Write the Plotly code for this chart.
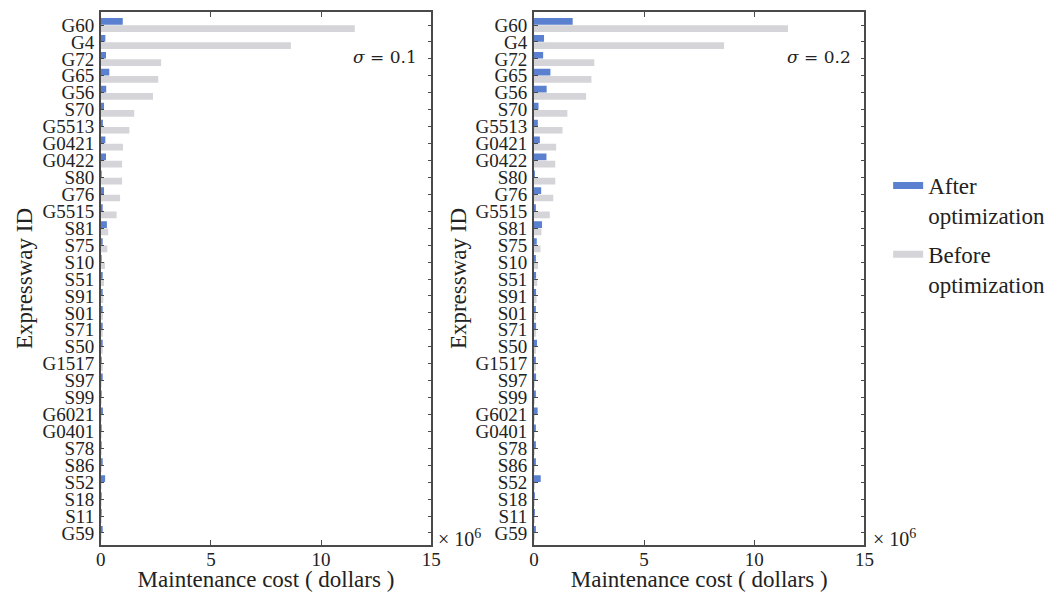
import plotly.graph_objects as go

# Expressway IDs, ordered by pre-optimization maintenance cost
expressways = ["G60", "G4", "G72", "G65", "G56", "S70", "G5513", "G0421", "G0422",
               "S80", "G76", "G5515", "S81", "S75", "S10", "S51", "S91", "S01", "S71",
               "S50", "G1517", "S97", "S99", "G6021", "G0401", "S78", "S86", "S52",
               "S18", "S11", "G59"]

# Maintenance cost in millions of dollars
cost_before = [11.53, 8.63, 2.74, 2.61, 2.37, 1.52, 1.30, 1.01, 0.97, 0.97, 0.88,
               0.72, 0.34, 0.30, 0.19, 0.15, 0.12, 0.10, 0.08, 0.06, 0.05, 0.04,
               0.03, 0.03, 0.02, 0.02, 0.02, 0.02, 0.01, 0.01, 0.01]
cost_after_s01 = [1.00, 0.21, 0.24, 0.39, 0.25, 0.15, 0.10, 0.21, 0.24, 0.03, 0.15,
                  0.05, 0.28, 0.08, 0.03, 0.08, 0.07, 0.05, 0.05, 0.07, 0.04, 0.09,
                  0.02, 0.10, 0.02, 0.02, 0.05, 0.20, 0.01, 0.01, 0.05]
cost_after_s02 = [1.76, 0.46, 0.42, 0.75, 0.58, 0.21, 0.18, 0.27, 0.57, 0.04, 0.33,
                  0.05, 0.37, 0.13, 0.08, 0.10, 0.10, 0.08, 0.10, 0.14, 0.08, 0.10,
                  0.05, 0.17, 0.08, 0.05, 0.08, 0.31, 0.02, 0.02, 0.08]

sigma_labels = ["<i>σ</i> = 0.1", "<i>σ</i> = 0.2"]
x_ticks = [0, 5, 10, 15]

BLUE = "#5b80cf"
GRAY = "#d4d4d9"
AXIS = "#4a4a4a"
SERIF = "Liberation Serif, Times New Roman, serif"

W, H = 1056, 592
# panel frames in pixels: (left, right), shared top / bottom
panels = [(97, 432), (536, 871)]
top_px, bottom_px = 12, 545

fig = go.Figure()
layout = dict(
    width=W, height=H,
    margin=dict(l=0, r=0, t=0, b=0),
    paper_bgcolor="white", plot_bgcolor="white",
    barmode="group", bargap=0.14, bargroupgap=0.08,
    showlegend=True,
    font=dict(family=SERIF, size=19, color="#222"),
)

after_sets = [cost_after_s01, cost_after_s02]
annotations = []
for i, (after, (lpx, rpx)) in enumerate(zip(after_sets, panels)):
    xa = "x" if i == 0 else f"x{i + 1}"
    ya = "y" if i == 0 else f"y{i + 1}"
    fig.add_trace(go.Bar(y=expressways, x=after, orientation="h", marker_color=BLUE,
                         marker_line_width=0, xaxis=xa, yaxis=ya, showlegend=False,
                         name="After optimization"))
    fig.add_trace(go.Bar(y=expressways, x=cost_before, orientation="h", marker_color=GRAY,
                         marker_line_width=0, xaxis=xa, yaxis=ya, showlegend=False,
                         name="Before optimization"))
    key = "" if i == 0 else str(i + 1)
    layout["xaxis" + key] = dict(
        domain=[lpx / W, rpx / W], anchor=ya, range=[0, 15],
        tickmode="array", tickvals=x_ticks, ticktext=[str(v) for v in x_ticks],
        ticks="inside", ticklen=5, tickcolor=AXIS, showline=True, linecolor=AXIS,
        linewidth=1.5, mirror="ticks", showgrid=False, zeroline=False,
        tickfont=dict(size=19, family=SERIF), ticklabelstandoff=-4,
        title=dict(text="Maintenance cost ( dollars )", font=dict(size=23, family=SERIF),
                   standoff=4),
    )
    layout["yaxis" + key] = dict(
        domain=[(H - bottom_px) / H, (H - top_px) / H], anchor=xa,
        type="category", range=[30.71, -0.77],
        tickmode="array", tickvals=expressways, ticktext=expressways,
        ticks="inside", ticklen=4, tickcolor=AXIS, showline=True, linecolor=AXIS,
        linewidth=1.5, mirror="ticks", showgrid=False, zeroline=False,
        tickfont=dict(size=19, family=SERIF), ticklabelstandoff=1,
        title=dict(text="Expressway ID", font=dict(size=23, family=SERIF), standoff=3),
    )
    annotations.append(dict(
        x=(rpx - 12) / W, y=(H - 57) / H, xref="paper", yref="paper",
        xanchor="right", yanchor="middle", showarrow=False,
        text=sigma_labels[i], font=dict(size=17, family="DejaVu Serif", color="#222")))
    annotations.append(dict(
        x=(rpx + 5 + 2 * i) / W, y=(H - 538) / H, xref="paper", yref="paper",
        xanchor="left", yanchor="middle", showarrow=False,
        text="× 10<sup>6</sup>", font=dict(size=20, family=SERIF, color="#222")))

# legend entries
fig.add_trace(go.Scatter(x=[None], y=[None], mode="lines", line=dict(color=BLUE, width=7),
                         name="After<br>optimization", legendgroup="after",
                         xaxis="x2", yaxis="y2"))
fig.add_trace(go.Scatter(x=[None], y=[None], mode="lines", line=dict(color=GRAY, width=7),
                         name="Before<br>optimization", legendgroup="before",
                         xaxis="x2", yaxis="y2"))

layout["legend"] = dict(
    x=895 / W, y=(H - 164) / H, xanchor="left", yanchor="top",
    traceorder="grouped", valign="top", itemwidth=30, tracegroupgap=6,
    font=dict(size=23, family=SERIF, color="#222"), bgcolor="rgba(0,0,0,0)",
)
layout["annotations"] = annotations
fig.update_layout(**layout)

fig.write_html("out.html")
